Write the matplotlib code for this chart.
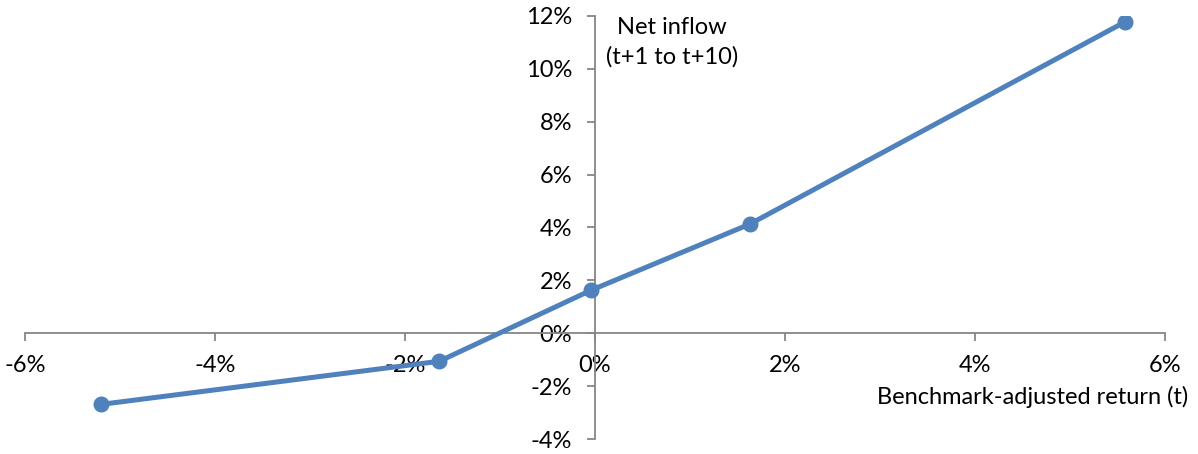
import matplotlib
matplotlib.use("Agg")
import matplotlib.pyplot as plt
from matplotlib.ticker import FuncFormatter

# benchmark-adjusted return (t), % and net inflow (t+1 to t+10), %
ret = [-5.2, -1.64, -0.04, 1.63, 5.58]
inflow = [-2.69, -1.06, 1.63, 4.13, 11.78]
x_ticks = [-6, -4, -2, 0, 2, 4, 6]
y_ticks = [-4, -2, 0, 2, 4, 6, 8, 10, 12]

plt.rcParams['font.family'] = ['Lato', 'DejaVu Sans']
axis_col = '#868686'
fs = 17

fig = plt.figure(figsize=(11.98, 4.54), dpi=100)
ax = fig.add_axes([0.0209, 0.033, 0.9516, 0.9318])

ax.plot(ret, inflow, color='#4F81BD', lw=3.6, marker='o', ms=10.5,
        solid_joinstyle='round', zorder=3)

ax.set_xlim(-6, 6)
ax.set_ylim(-4, 12)
ax.set_xticks(x_ticks)
ax.set_yticks(y_ticks)
pct = FuncFormatter(lambda v, p: f"{v:.0f}%")
ax.xaxis.set_major_formatter(pct)
ax.yaxis.set_major_formatter(pct)

for s in ['top', 'right']:
    ax.spines[s].set_visible(False)
ax.spines['left'].set_position(('data', 0))
ax.spines['bottom'].set_position(('data', 0))
for s in ['left', 'bottom']:
    ax.spines[s].set_color(axis_col)
    ax.spines[s].set_linewidth(1.3)

ax.tick_params(axis='x', direction='out', length=5.5, width=1.3, color=axis_col,
               pad=10.5, labelsize=fs, labelcolor='black')
ax.tick_params(axis='y', direction='out', length=5.5, width=1.3, color=axis_col,
               pad=11, labelsize=fs, labelcolor='black')

ax.text(6.24, -2.42, 'Benchmark-adjusted return (t)', ha='right', va='center',
        fontsize=fs)
ax.text(0.81, 11.0, 'Net inflow\n(t+1 to t+10)', ha='center', va='center',
        fontsize=fs, linespacing=1.45)

fig.savefig('out.png', dpi=100)
